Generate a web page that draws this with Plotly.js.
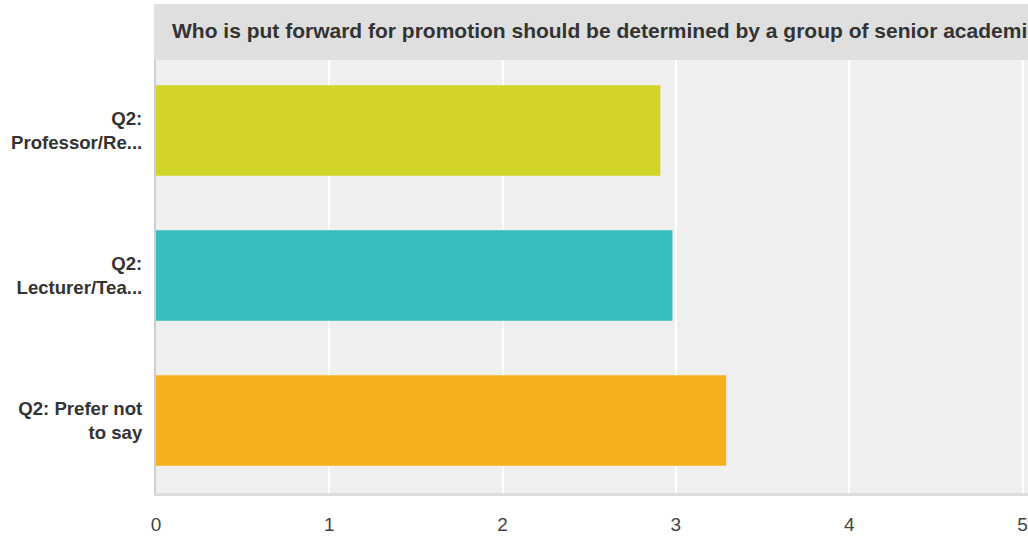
<!DOCTYPE html>
<html>
<head>
<meta charset="utf-8">
<script src="https://cdn.plot.ly/plotly-3.0.1.min.js"></script>
<style>html,body{margin:0;padding:0;background:#fff;overflow:hidden}#chart{width:1028px;height:538px}</style>
</head>
<body>
<div id="chart"></div>
<script>
const chartTitle = "Who is put forward for promotion should be determined by a group of senior academics";
const categories = ["Q2:<br>Professor/Re...", "Q2:<br>Lecturer/Tea...", "Q2: Prefer not<br>to say"];
const values = [2.91, 2.98, 3.29];
const barColors = ["#d0d527", "#34bec0", "#f6b01e"];
const xTicks = [0, 1, 2, 3, 4, 5];

const FONT = "'Liberation Sans', Arial, sans-serif";

const trace = {
  type: "bar",
  orientation: "h",
  y: categories,
  x: values,
  marker: {color: barColors},
  hoverinfo: "x+y"
};

const layout = {
  width: 1028,
  height: 538,
  margin: {l: 156, r: 0, t: 58, b: 45, pad: 0},
  paper_bgcolor: "#ffffff",
  plot_bgcolor: "#efefef",
  showlegend: false,
  bargap: 0.375,
  font: {family: FONT, color: "#333"},
  title: {
    text: chartTitle,
    xref: "container", yref: "container",
    x: 172/1028, xanchor: "left",
    y: 1 - 31/538, yanchor: "middle",
    font: {family: FONT, size: 21, weight: "bold", color: "#333"}
  },
  xaxis: {
    range: [0, 872/173.3],
    tickvals: xTicks,
    ticktext: xTicks.map(String),
    showgrid: true, gridcolor: "#ffffff", gridwidth: 2,
    zeroline: false,
    showline: true, linecolor: "#dcdcdc", linewidth: 3,
    ticks: "outside", ticklen: 12, tickcolor: "rgba(0,0,0,0)",
    tickfont: {family: FONT, size: 19, color: "#444"},
    fixedrange: true
  },
  yaxis: {
    autorange: "reversed",
    showgrid: false, zeroline: false,
    showline: true, linecolor: "#cfcfcf", linewidth: 2,
    ticks: "outside", ticklen: 8, tickcolor: "rgba(0,0,0,0)",
    tickfont: {family: FONT, size: 18.6, weight: "bold", color: "#333"},
    fixedrange: true
  },
  shapes: [{
    type: "rect", xref: "paper", yref: "paper", layer: "above",
    x0: -2/872, x1: 1.01, y0: (493-60)/435, y1: (493-4)/435,
    fillcolor: "#dfdfdf", line: {width: 0}
  }]
};

Plotly.newPlot("chart", [trace], layout, {displayModeBar: false, staticPlot: true});
</script>
</body>
</html>
